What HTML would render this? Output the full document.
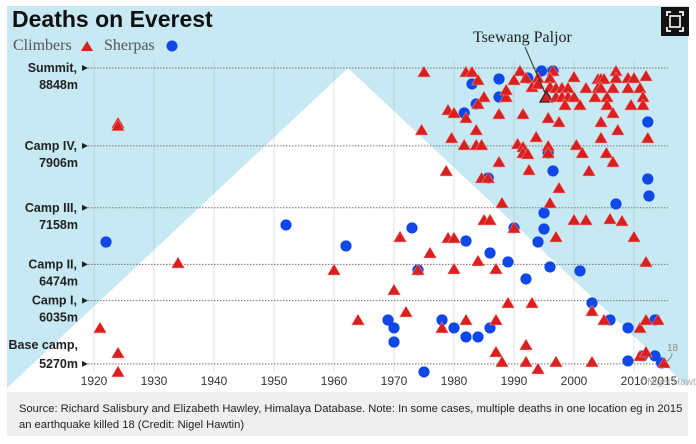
<!DOCTYPE html>
<html><head><meta charset="utf-8"><style>
html,body{margin:0;padding:0;background:#fff;width:696px;height:444px;overflow:hidden}
svg text{font-family:"Liberation Sans",Arial,sans-serif}
</style></head><body>
<svg id="chart" width="696" height="444" viewBox="0 0 696 444" xmlns="http://www.w3.org/2000/svg">
<rect x="7" y="6" width="681" height="382" fill="#c6e9f3"/>
<polygon points="7,388 348,68 689,388" fill="#ffffff"/>
<g id="grid"></g>
<g id="marks"></g>
<text x="12" y="27" font-size="23" font-weight="bold" fill="#111">Deaths on Everest</text>
<g>
<text x="13" y="50" font-size="16" fill="#555" style="font-family:'Liberation Serif',serif">Climbers</text>
<polygon points="87,41 93,51 81,51" fill="#d9201f"/>
<text x="104" y="50" font-size="16" fill="#555" style="font-family:'Liberation Serif',serif">Sherpas</text>
<circle cx="172" cy="46" r="5.5" fill="#1048e8"/>
</g>
<text x="473" y="42" font-size="16" fill="#222" style="font-family:'Liberation Serif',serif">Tsewang Paljor</text>
<line x1="525" y1="47" x2="545" y2="93" stroke="#333" stroke-width="1"/>
<rect x="661" y="7" width="28" height="29" fill="#111"/>
<path d="M667,16v-4h4M679,12h4v4M683,27v4h-4M671,31h-4v-4" stroke="#fff" stroke-width="1.8" fill="none"/>
<rect x="670" y="16" width="10" height="11" fill="none" stroke="#fff" stroke-width="1.6"/>
<text x="667" y="351" font-size="10" fill="#888">18</text>
<path d="M672,353 q0,6 -7,9" stroke="#888" fill="none"/>
<text x="640" y="385" font-size="10" fill="#aaa">©Nigel Hawtin</text>
<rect x="7" y="392" width="681" height="44" fill="#efefef"/>
<text x="19" y="412" font-size="11.2" fill="#222">Source: Richard Salisbury and Elizabeth Hawley, Himalaya Database. Note: In some cases, multiple deaths in one location eg in 2015</text>
<text x="19" y="428" font-size="11.2" fill="#222">an earthquake killed 18 (Credit: Nigel Hawtin)</text>
</svg>
<script>
const xTicks = [1920,1930,1940,1950,1960,1970,1980,1990,2000,2010,2015];
const xTickLabels = ["1920","1930","1940","1950","1960","1970","1980","1990","2000","2010","2015"];
const campNames = ["Summit,","Camp IV,","Camp III,","Camp II,","Camp I,","Base camp,"];
const campAltitudes = [8848,7906,7158,6474,6035,5270];
const climberYears = [1921,1924,1924,1924,1924,1934,1960,1964,1970,1971,1972,1974,1976,1978,1979,1980,1980,1982,1984,1985,1986,1987,1987,1987,1988,1988,1989,1990,1992,1992,1993,1994,1996,1997,1997.5,1997,2000,2002,2003,2003,2005,2006,2008,2010,2011,2012,2012,2014,2011,2012,2015,
1975,1982,1983,1984,1991,1990,1992,1994,1996.5,1996,1993,1994,1996,1995.4,1997,1998,1999,2002,2000,2004,2004.5,2005,2007,2007,2009,2010,2012,2004,2004.5,2006.5,2009,2011,1997,1998,1999,2000,2003.5,2005.5,2011.5,1988.7,1988.7,1985,1984,1998.5,2001,2005.5,2009.5,2011.5,1979,1980,1982,1987.5,1991.5,1995.7,1997.5,2006.5,2004.5,1974.6,1983.7,1979.6,1993.7,2004.5,2007.3,2012.3,1981.7,1983.7,1984.6,1990.6,1991.5,1991.5,1992.3,1995.7,1995.7,2000.4,2001.4,2005.4,2006.5,1987.5,1978.7,1992.5,2002.5,1984.6,1985.7];
const climberAlts = [5705,5402,5173,8183,8150,6490,6406,5801,6164,6805,5898,6406,6611,5705,6793,6793,6418,5801,6515,7010,7010,6418,5801,5414,7216,5294,6007,6914,5499,5294,6007,5209,7216,6805,7397,5294,7010,7010,5910,5294,5801,7022,6998,6805,5705,6503,5801,5801,5366,5414,5281,
8800,8800,8800,8703,8812,8703,8727,8727,8812,8727,8618,8655,8618,8497,8606,8606,8606,8606,8739,8715,8715,8715,8812,8727,8727,8727,8751,8606,8606,8606,8606,8606,8497,8497,8497,8497,8497,8497,8497,8497,8582,8497,8413,8401,8401,8401,8401,8401,8340,8304,8244,8292,8292,8244,8195,8304,8195,8098,8098,8002,8014,8002,8098,8002,7917,7917,7917,7929,7893,7820,7808,7905,7820,7917,7820,7820,7712,7712,7603,7615,7603,7518,7518];
const sherpaYears = [1922,1952,1962,1969,1970,1970,1973,1974,1975,1978,1980,1982,1982,1984,1986,1986,1989,1990,1992,1994,1995,1995,1996,2001,2003,2006,2007,2009,2009,2012.3,2012.5,2012.3,2013.5,2011.4,2013.5,2014.6,1983,1987.5,1992.3,1994.6,1996.5,1987.5,1983.7,1981.7,1985.7,1996.5,1995.7];
const sherpaAlts = [6744,6950,6696,5801,5705,5535,6914,6406,5173,5801,5705,6756,5596,5596,6611,5705,6503,6914,6297,6744,7095,6901,6442,6394,6007,5801,7204,5705,5306,7506,7300,8195,5801,5366,5366,5281,8655,8715,8727,8812,8812,8497,8413,8304,7518,7603,7820];

const X = yr => 94 + (yr - 1920) * 6;
const Y = alt => 68 + (8848 - alt) * 0.0827;
const NS = "http://www.w3.org/2000/svg";
const svg = document.getElementById('chart');
const grid = document.getElementById('grid');
const marks = document.getElementById('marks');
function mk(tag, attrs, parent){const e=document.createElementNS(NS,tag);for(const k in attrs)e.setAttribute(k,attrs[k]);parent.appendChild(e);return e;}

xTicks.forEach((t,i)=>{
  if (t % 10 === 0) {
    const l = mk('line',{x1:X(t),x2:X(t),y1:60,y2:372,stroke:'#9aa',"stroke-opacity":0.3,"stroke-width":1},grid);
    
    
  }
  const tx = mk('text',{x:X(t),y:385,"font-size":12,fill:"#333","text-anchor":"middle"},grid);
  tx.textContent = xTickLabels[i];
  
  
});
campAltitudes.forEach((a,i)=>{
  const y = Y(a);
  const l = mk('line',{x1:88,x2:668,y1:y,y2:y,stroke:'#777',"stroke-width":1,"stroke-dasharray":"1.5,1.5"},grid);
  
  
  const base = i === campAltitudes.length-1;
  const y1 = base ? y-15 : y+4, y2 = base ? y+4 : y+21;
  const t1 = mk('text',{x:base?78:77,y:y1,"font-size":12.5,"font-weight":"bold",fill:"#222","text-anchor":"end"},grid);
  t1.textContent = campNames[i];
  
  
  const t2 = mk('text',{x:78,y:y2,"font-size":12.5,"font-weight":"bold",fill:"#222","text-anchor":"end"},grid);
  t2.textContent = a + "m";
  
  
  const p = mk('polygon',{points:`82,${y-3} 88,${y} 82,${y+3}`,fill:"#222"},grid);
  
  
});
sherpaYears.forEach((yr,i)=>{
  const c = mk('circle',{cx:X(yr),cy:Y(sherpaAlts[i]),r:5.6,fill:'#1048e8'},marks);
  
  
});
climberYears.forEach((yr,i)=>{
  const x = X(yr), y = Y(climberAlts[i]);
  const paljor = (yr === 1995.4);
  const p = mk('polygon',{points:`${x},${y-6} ${x+6.5},${y+5} ${x-6.5},${y+5}`,fill:'#d9201f',stroke:paljor?'#222':'#f3a0a0',"stroke-width":paljor?1.2:0.5},marks);
  
  
});
</script>
</body></html>
